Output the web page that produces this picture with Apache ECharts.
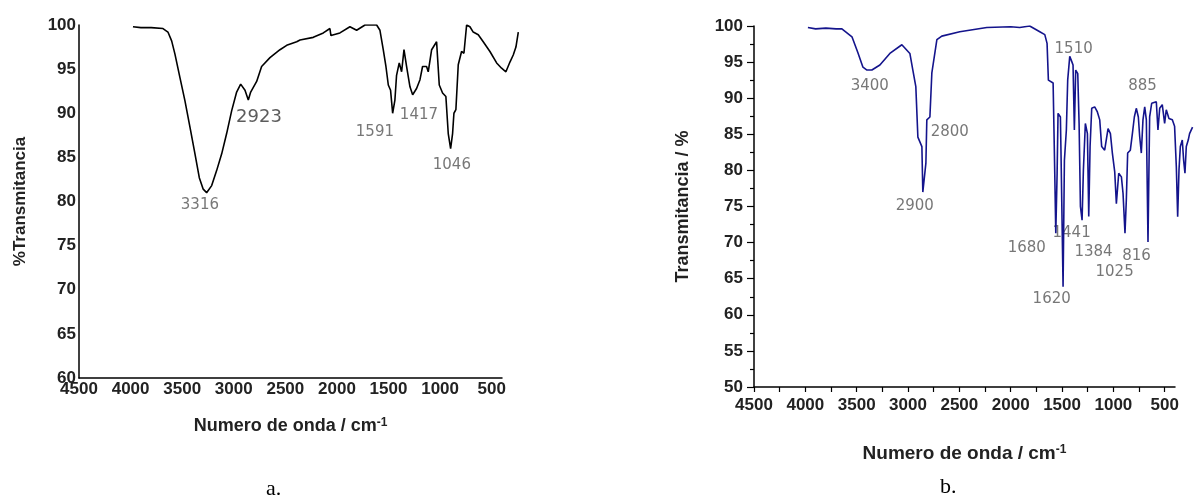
<!DOCTYPE html>
<html>
<head>
<meta charset="utf-8">
<script src="https://cdn.jsdelivr.net/npm/echarts@6/dist/echarts.min.js"></script>
<style>
  html, body { margin: 0; padding: 0; background: #fff; }
  #main { width: 1200px; height: 503px; }
</style>
</head>
<body>
<div id="main"></div>
<script>
// espectro a (negro)
var wnA = [3977, 3900, 3800, 3686, 3638, 3602, 3570, 3521, 3473, 3424, 3376, 3334, 3296, 3263, 3214, 3166,
  3117, 3069, 3020, 2972, 2933, 2891, 2859, 2836, 2778, 2730, 2649, 2552, 2487, 2390, 2358, 2229, 2132,
  2068, 2058, 2051, 1971, 1874, 1809, 1728, 1615, 1583, 1551, 1525, 1502, 1480, 1460, 1454, 1438, 1422,
  1396, 1373, 1350, 1325, 1292, 1266, 1228, 1195, 1170, 1131, 1115, 1082, 1034, 1008, 976, 944, 921, 898,
  879, 866, 847, 824, 792, 769, 743, 711, 679, 630, 582, 517, 452, 404, 362, 323, 291, 265, 242]
var tA = [99.8, 99.7, 99.7, 99.6, 99.2, 98.2, 96.7, 94.0, 91.4, 88.4, 85.4, 82.7, 81.4, 81.0, 81.8, 83.5,
  85.4, 87.7, 90.3, 92.4, 93.3, 92.6, 91.5, 92.4, 93.6, 95.3, 96.3, 97.2, 97.7, 98.1, 98.3, 98.6, 99.1,
  99.6, 98.8, 98.7, 99.1, 99.8, 99.4, 100, 100, 99.4, 97.2, 95.3, 93.2, 92.6, 90.0, 89.8, 91.5, 94.3,
  95.7, 94.7, 97.2, 95.3, 93.0, 92.1, 92.8, 93.8, 95.3, 95.3, 94.7, 97.2, 98.1, 93.2, 92.3, 91.9, 87.7, 86.0,
  87.7, 90.0, 90.4, 95.5, 97.0, 96.8, 100, 99.8, 99.2, 98.9, 98.1, 97.0, 95.7, 95.1, 94.7, 95.8, 96.6, 97.5, 99.2]

// espectro b (azul)
var wnB = [3975, 3900, 3800, 3700, 3644, 3546, 3488, 3439, 3400, 3352, 3274, 3177, 3060, 2982, 2953, 2924,
  2904, 2865, 2856, 2826, 2817, 2787, 2768, 2719, 2671, 2496, 2233, 2000, 1912, 1815, 1717, 1668, 1646,
  1633, 1587, 1571, 1561, 1548, 1539, 1516, 1509, 1490, 1477, 1458, 1445, 1425, 1406, 1393, 1380, 1367,
  1347, 1334, 1321, 1305, 1292, 1273, 1253, 1240, 1227, 1211, 1182, 1156, 1133, 1114, 1085, 1052, 1029,
  1010, 987, 971, 948, 922, 906, 887, 874, 861, 835, 815, 796, 777, 757, 744, 728, 712, 695, 679, 663,
  647, 627, 582, 566, 549, 524, 501, 485, 459, 426, 404, 387, 374, 361, 348, 329, 316, 303, 290, 271, 258, 229]
var tB = [99.8, 99.6, 99.7, 99.6, 99.6, 98.5, 96.3, 94.3, 93.9, 93.9, 94.6, 96.2, 97.4, 96.2, 93.9, 91.6,
  84.6, 83.3, 77.0, 81.0, 87.0, 87.4, 93.5, 98.1, 98.6, 99.2, 99.8, 99.9, 99.8, 100, 99.2, 98.8, 97.6,
  92.5, 92.1, 79.6, 71.3, 79.6, 87.9, 87.4, 81.4, 63.9, 81.4, 85.6, 92.5, 95.8, 95.1, 94.6, 85.6, 93.9,
  93.4, 86.5, 75.0, 73.1, 80.1, 86.5, 85.1, 73.6, 83.3, 88.6, 88.8, 88.1, 87.0, 83.3, 82.8, 85.8, 85.1,
  82.4, 79.8, 75.4, 79.6, 79.1, 76.8, 71.3, 75.9, 82.4, 82.8, 85.1, 87.4, 88.6, 87.4, 84.7, 82.4, 87.0, 88.8, 87.0, 70.1,
  87.4, 89.3, 89.5, 85.6, 88.6, 89.1, 86.5, 88.4, 87.2, 87.0, 86.1, 80.5, 73.6, 80.1, 83.3, 84.2, 81.4, 79.6, 83.3, 84.2, 85.1, 86.0]

// etiquetas de picos
var peakNamesA = ['3316', '2923', '1591', '1417', '1046']
var peakWnA = [3328, 2756, 1632, 1205, 886]
var peakTA = [79.6, 89.5, 87.9, 89.8, 84.1]

var peakNamesB = ['3400', '2800', '2900', '1510', '885', '1680', '1441', '1384', '816', '1025', '1620']
var peakWnB = [3372, 2593, 2934, 1387, 716, 1844, 1407, 1193, 774, 988, 1601]
var peakTB = [91.7, 85.3, 75.1, 96.8, 91.7, 69.3, 71.3, 68.7, 68.1, 65.9, 62.2]

var xTicks = [4500, 4000, 3500, 3000, 2500, 2000, 1500, 1000, 500]
var xTicksMinor = [4500, 4250, 4000, 3750, 3500, 3250, 3000, 2750, 2500, 2250, 2000, 1750, 1500, 1250, 1000, 750, 500]

var FONT = '"Liberation Sans", Arial, sans-serif'

// el eje visible va de 4500 a 400, pero el espectro sigue un poco mas alla (hasta ~230)
var AX_MIN = 400, AX_MAX = 4500, DATA_MIN = 200

function pairs(xs, ys) {
  return xs.map(function (x, i) { return [x, ys[i]] })
}

function peaks(names, xs, ys) {
  return names.map(function (n, i) {
    var item = { name: n, value: [xs[i], ys[i]] }
    if (n === '2923') item.label = { fontSize: 18, color: '#333' }
    return item
  })
}

function xName(size) {
  return {
    fontSize: size, fontWeight: 'bold', fontFamily: FONT, color: '#222',
    rich: {
      t: { fontSize: size, fontWeight: 'bold', fontFamily: FONT, color: '#222', verticalAlign: 'bottom' },
      s: { fontSize: 12, fontWeight: 'bold', fontFamily: FONT, color: '#222', verticalAlign: 'top' }
    }
  }
}

function dataWidth(axisWidth) {
  return axisWidth * (AX_MAX - DATA_MIN) / (AX_MAX - AX_MIN)
}

var axisLabelStyle = { fontSize: 17, fontWeight: 'bold', fontFamily: FONT, color: '#222', formatter: function (v) { return String(v) } }
var peakLabel = { show: true, position: 'inside', formatter: '{b}', fontSize: 15, color: '#555', fontFamily: '"DejaVu Sans", sans-serif' }
var hiddenAxis = { show: false }

var chart = echarts.init(document.getElementById('main'))
var option = {
  animation: false,
  backgroundColor: '#fff',
  grid: [
    { left: 79, top: 25, width: 423, height: 353 },
    { left: 754, top: 26, width: 421, height: 361 },
    { left: 79, top: 25, width: dataWidth(423), height: 353 },
    { left: 754, top: 26, width: dataWidth(421), height: 361 }
  ],
  xAxis: [
    {
      gridIndex: 0, type: 'value', inverse: true, min: AX_MIN, max: AX_MAX,
      name: '{t|Numero de onda / cm}{s|-1}', nameLocation: 'middle', nameGap: 39,
      nameTextStyle: xName(18),
      axisLine: { show: true, onZero: false, lineStyle: { color: '#000', width: 1.5 } },
      axisTick: { show: false },
      splitLine: { show: false },
      axisLabel: Object.assign({ margin: 3, customValues: xTicks }, axisLabelStyle)
    },
    {
      gridIndex: 1, type: 'value', inverse: true, min: AX_MIN, max: AX_MAX,
      name: '{t|Numero de onda / cm}{s|-1}', nameLocation: 'middle', nameGap: 57,
      nameTextStyle: xName(19),
      axisLine: { show: true, onZero: false, lineStyle: { color: '#000', width: 1.5 } },
      axisTick: { show: true, length: 5, customValues: xTicksMinor, lineStyle: { color: '#000', width: 1.2 } },
      splitLine: { show: false },
      axisLabel: Object.assign({ margin: 10, customValues: xTicks }, axisLabelStyle)
    },
    { gridIndex: 2, type: 'value', inverse: true, min: DATA_MIN, max: AX_MAX, show: false, splitLine: hiddenAxis },
    { gridIndex: 3, type: 'value', inverse: true, min: DATA_MIN, max: AX_MAX, show: false, splitLine: hiddenAxis }
  ],
  yAxis: [
    {
      gridIndex: 0, type: 'value', min: 60, max: 100, interval: 5,
      name: '%Transmitancia', nameLocation: 'middle', nameGap: 50,
      nameTextStyle: { fontSize: 17, fontWeight: 'bold', fontFamily: FONT, color: '#222' },
      axisLine: { show: true, onZero: false, lineStyle: { color: '#000', width: 1.5 } },
      axisTick: { show: false },
      splitLine: { show: false },
      axisLabel: Object.assign({ margin: 3 }, axisLabelStyle)
    },
    {
      gridIndex: 1, type: 'value', min: 50, max: 100, interval: 5,
      name: 'Transmitancia / %', nameLocation: 'middle', nameGap: 62,
      nameTextStyle: { fontSize: 18, fontWeight: 'bold', fontFamily: FONT, color: '#222' },
      axisLine: { show: true, onZero: false, lineStyle: { color: '#000', width: 1.5 } },
      axisTick: { show: true, length: 7, lineStyle: { color: '#000', width: 1.2 } },
      minorTick: { show: true, splitNumber: 2, length: 4, lineStyle: { color: '#000', width: 1.2 } },
      splitLine: { show: false },
      axisLabel: Object.assign({ margin: 11 }, axisLabelStyle)
    },
    { gridIndex: 2, type: 'value', min: 60, max: 100, show: false, splitLine: hiddenAxis },
    { gridIndex: 3, type: 'value', min: 50, max: 100, show: false, splitLine: hiddenAxis }
  ],
  series: [
    {
      type: 'line', xAxisIndex: 2, yAxisIndex: 2, data: pairs(wnA, tA),
      showSymbol: false, symbol: 'none',
      lineStyle: { color: '#000', width: 1.6 }
    },
    {
      type: 'scatter', xAxisIndex: 0, yAxisIndex: 0, symbolSize: 0,
      data: peaks(peakNamesA, peakWnA, peakTA), label: peakLabel
    },
    {
      type: 'line', xAxisIndex: 3, yAxisIndex: 3, data: pairs(wnB, tB),
      showSymbol: false, symbol: 'none',
      lineStyle: { color: '#14148c', width: 1.6 }
    },
    {
      type: 'scatter', xAxisIndex: 1, yAxisIndex: 1, symbolSize: 0,
      data: peaks(peakNamesB, peakWnB, peakTB), label: peakLabel
    }
  ],
  graphic: [
    { type: 'text', left: 266, top: 478, style: { text: 'a.', fontSize: 22, fontFamily: '"Liberation Serif", serif', fill: '#000' } },
    { type: 'text', left: 940, top: 476, style: { text: 'b.', fontSize: 22, fontFamily: '"Liberation Serif", serif', fill: '#000' } }
  ]
}
chart.setOption(option)
</script>
</body>
</html>
